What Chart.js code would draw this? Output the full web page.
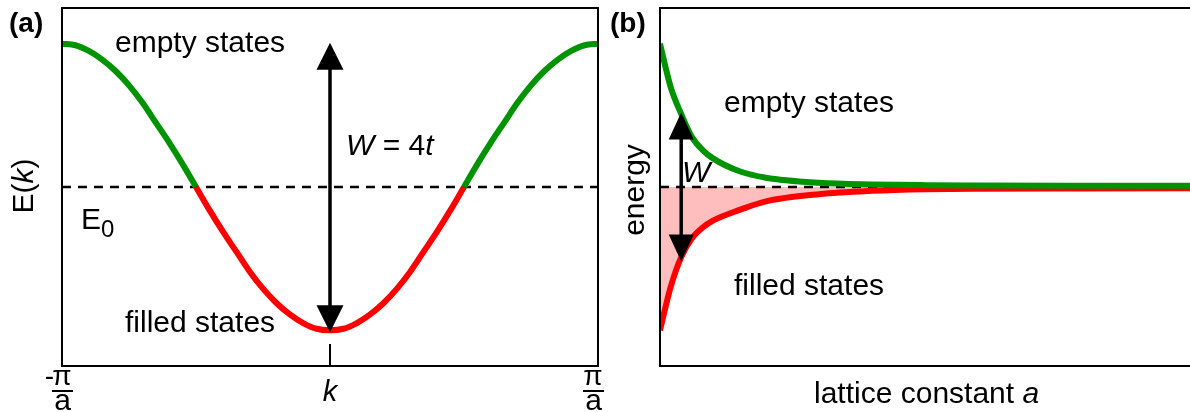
<!DOCTYPE html>
<html>
<head>
<meta charset="utf-8">
<script src="https://cdn.jsdelivr.net/npm/chart.js@4/dist/chart.umd.min.js"></script>
<style>
  html, body { margin: 0; padding: 0; background: #fff; }
  #wrap { position: relative; width: 1190px; height: 412px; overflow: hidden; }
  #ca { position: absolute; left: 0; top: 0; }
  #cb { position: absolute; left: 600px; top: 0; }
</style>
</head>
<body>
<div id="wrap">
  <canvas id="ca" width="612" height="412"></canvas>
  <canvas id="cb" width="590" height="412"></canvas>
</div>
<script>
// ---- Panel (a): tight-binding band E(k) over the first Brillouin zone (k in units of π/a)
const kValues = [-1, -0.95, -0.9, -0.85, -0.8, -0.75, -0.7, -0.65, -0.6, -0.55, -0.5,
                 -0.45, -0.4, -0.35, -0.3, -0.25, -0.2, -0.15, -0.1, -0.05, 0,
                 0.05, 0.1, 0.15, 0.2, 0.25, 0.3, 0.35, 0.4, 0.45, 0.5,
                 0.55, 0.6, 0.65, 0.7, 0.75, 0.8, 0.85, 0.9, 0.95, 1];
const bandEnergy = [1.00, 0.99, 0.95, 0.89, 0.81, 0.71, 0.59, 0.45, 0.31, 0.16, 0.00,
                    -0.16, -0.31, -0.45, -0.59, -0.71, -0.81, -0.89, -0.95, -0.99, -1.00,
                    -0.99, -0.95, -0.89, -0.81, -0.71, -0.59, -0.45, -0.31, -0.16, 0.00,
                    0.16, 0.31, 0.45, 0.59, 0.71, 0.81, 0.89, 0.95, 0.99, 1.00];
const referenceLevel = 0;                 // E0
const kTickValues = [-1, 0, 1];
const kTickLabels = [['-', 'π', 'a'], 'k', ['', 'π', 'a']];
const bandArrowK = 0;                     // bandwidth arrow position
const bandArrowEnds = [-1.0, 1.0];        // W = 4t spans the whole band

// ---- Panel (b): band edges versus lattice constant a
const latticeA   = [0, 0.2, 0.4, 0.6, 0.8, 1.0, 1.5, 2.0, 3.0, 4.0, 5.0, 6.0, 8.0, 10.0];
const upperEdge  = [1.00, 0.70, 0.51, 0.35, 0.26, 0.20, 0.11, 0.065, 0.030, 0.018, 0.013, 0.011, 0.009, 0.008];
const lowerEdge  = [-1.00, -0.70, -0.49, -0.36, -0.285, -0.235, -0.16, -0.10, -0.050, -0.027, -0.016, -0.012, -0.010, -0.009];
const widthArrowA = 0.4;
const widthArrowEnds = [-0.52, 0.52];

const GREEN = '#009300', RED = '#ff0000', PINK = '#ffbebe', INK = '#000';
const FAMILY = '"Liberation Sans", Arial, Helvetica, sans-serif';
const font = (size, style) => `${style ? style + ' ' : ''}${size}px ${FAMILY}`;

function drawRuns(ctx, x, y, runs, align) {
  let total = 0;
  runs.forEach(r => { ctx.font = font(r.size, r.style); r.w = ctx.measureText(r.t).width; total += r.w; });
  let cx = align === 'center' ? x - total / 2 : x;
  ctx.textAlign = 'left';
  ctx.textBaseline = 'alphabetic';
  ctx.fillStyle = INK;
  runs.forEach(r => { ctx.font = font(r.size, r.style); ctx.fillText(r.t, cx, y + (r.dy || 0)); cx += r.w; });
}

function drawRotatedRuns(ctx, x, y, runs) {
  ctx.save();
  ctx.translate(x, y);
  ctx.rotate(-Math.PI / 2);
  drawRuns(ctx, 0, 0, runs, 'center');
  ctx.restore();
}

function drawDoubleArrow(ctx, x, yTop, yBot, headW, headL, lw) {
  ctx.save();
  ctx.fillStyle = INK;
  ctx.strokeStyle = INK;
  ctx.lineWidth = lw;
  ctx.beginPath();
  ctx.moveTo(x, yTop + headL - 1);
  ctx.lineTo(x, yBot - headL + 1);
  ctx.stroke();
  ctx.beginPath();
  ctx.moveTo(x, yTop);
  ctx.lineTo(x - headW / 2, yTop + headL);
  ctx.lineTo(x + headW / 2, yTop + headL);
  ctx.closePath();
  ctx.fill();
  ctx.beginPath();
  ctx.moveTo(x, yBot);
  ctx.lineTo(x - headW / 2, yBot - headL);
  ctx.lineTo(x + headW / 2, yBot - headL);
  ctx.closePath();
  ctx.fill();
  ctx.restore();
}

function fractionLabel(ctx, cx, sign, num, den) {
  ctx.fillStyle = INK;
  ctx.textBaseline = 'alphabetic';
  ctx.font = font(28);
  ctx.textAlign = 'center';
  ctx.fillText(num, cx, 385);
  if (sign) {
    ctx.textAlign = 'right';
    ctx.fillText(sign, cx - 8, 385);
  }
  ctx.fillRect(cx - 10, 390, 21, 2);
  ctx.font = font(30);
  ctx.textAlign = 'center';
  ctx.fillText(den, cx + 0.5, 410);
}

const panelA = {
  id: 'panelA',
  afterDatasetsDraw(chart) {
    const { ctx, scales: { x, y } } = chart;
    drawDoubleArrow(ctx, x.getPixelForValue(bandArrowK),
      y.getPixelForValue(bandArrowEnds[1]) - 1, y.getPixelForValue(bandArrowEnds[0]) + 2, 27, 27, 3.5);
  },
  afterDraw(chart) {
    const { ctx, chartArea: a, scales: { x } } = chart;
    ctx.save();
    ctx.strokeStyle = INK;
    ctx.lineWidth = 2;
    ctx.strokeRect(a.left, a.top, a.right - a.left, a.bottom - a.top);
    // tick labels along k
    kTickValues.forEach((v, i) => {
      const px = x.getPixelForValue(v);
      const lab = kTickLabels[i];
      if (Array.isArray(lab)) {
        fractionLabel(ctx, px + (v > 0 ? -5 : 0), lab[0], lab[1], lab[2]);
      } else {
        ctx.beginPath();
        ctx.moveTo(px, a.bottom - 22);
        ctx.lineTo(px, a.bottom);
        ctx.stroke();
        drawRuns(ctx, px, 401, [{ t: lab, size: 29, style: 'italic' }], 'center');
      }
    });
    drawRuns(ctx, 9, 32, [{ t: '(a)', size: 28, style: 'bold' }]);
    drawRuns(ctx, 115, 52, [{ t: 'empty states', size: 30 }]);
    drawRuns(ctx, 125, 332, [{ t: 'filled states', size: 30 }]);
    drawRuns(ctx, 346, 155, [
      { t: 'W', size: 30, style: 'italic' },
      { t: ' = 4', size: 30 },
      { t: 't', size: 30, style: 'italic' }
    ]);
    drawRuns(ctx, 81, 229, [{ t: 'E', size: 30 }, { t: '0', size: 24, dy: 8 }]);
    drawRotatedRuns(ctx, 33, 186, [
      { t: 'E(', size: 30 },
      { t: 'k', size: 30, style: 'italic' },
      { t: ')', size: 30 }
    ]);
    ctx.restore();
  }
};

const panelB = {
  id: 'panelB',
  afterDatasetsDraw(chart) {
    const { ctx, scales: { x, y } } = chart;
    drawDoubleArrow(ctx, x.getPixelForValue(widthArrowA),
      y.getPixelForValue(widthArrowEnds[1]), y.getPixelForValue(widthArrowEnds[0]), 25, 27, 3.5);
  },
  afterDraw(chart) {
    const { ctx, chartArea: a } = chart;
    ctx.save();
    ctx.strokeStyle = INK;
    ctx.lineWidth = 2;
    ctx.beginPath();
    ctx.moveTo(a.right + 2, a.top);
    ctx.lineTo(a.left, a.top);
    ctx.lineTo(a.left, a.bottom);
    ctx.lineTo(a.right + 2, a.bottom);
    ctx.stroke();
    drawRuns(ctx, 10, 32, [{ t: '(b)', size: 28, style: 'bold' }]);
    drawRuns(ctx, 124, 112, [{ t: 'empty states', size: 30 }]);
    drawRuns(ctx, 134, 295, [{ t: 'filled states', size: 30 }]);
    drawRuns(ctx, 82, 182, [{ t: 'W', size: 30, style: 'italic' }]);
    drawRuns(ctx, 214, 403, [
      { t: 'lattice constant ', size: 30 },
      { t: 'a', size: 30, style: 'italic' }
    ]);
    drawRotatedRuns(ctx, 44, 190, [{ t: 'energy', size: 30 }]);
    ctx.restore();
  }
};

const hiddenScales = (xmin, xmax) => ({
  x: { type: 'linear', min: xmin, max: xmax, display: false },
  y: { type: 'linear', min: -1.25, max: 1.25, display: false }
});
const commonPlugins = { legend: { display: false }, tooltip: { enabled: false } };

new Chart(document.getElementById('ca'), {
  type: 'line',
  data: {
    datasets: [
      {
        data: kValues.map((k, i) => ({ x: k, y: bandEnergy[i] })),
        borderWidth: 6,
        borderColor: GREEN,
        segment: { borderColor: c => (c.p0.parsed.y + c.p1.parsed.y) >= 0 ? GREEN : RED },
        cubicInterpolationMode: 'monotone',
        pointRadius: 0,
        fill: false
      },
      {
        data: [{ x: kValues[0], y: referenceLevel }, { x: kValues[kValues.length - 1], y: referenceLevel }],
        borderColor: INK,
        borderWidth: 2.5,
        borderDash: [9, 7],
        pointRadius: 0,
        fill: false
      }
    ]
  },
  options: {
    responsive: false,
    animation: false,
    devicePixelRatio: 1,
    events: [],
    layout: { padding: { left: 62, right: 14, top: 8, bottom: 46 } },
    scales: hiddenScales(-1, 1),
    plugins: commonPlugins
  },
  plugins: [panelA]
});

new Chart(document.getElementById('cb'), {
  type: 'line',
  data: {
    datasets: [
      {
        data: latticeA.map((v, i) => ({ x: v, y: upperEdge[i] })),
        borderWidth: 6,
        borderColor: GREEN,
        cubicInterpolationMode: 'monotone',
        pointRadius: 0,
        fill: false
      },
      {
        data: latticeA.map((v, i) => ({ x: v, y: lowerEdge[i] })),
        borderWidth: 6,
        borderColor: RED,
        backgroundColor: PINK,
        cubicInterpolationMode: 'monotone',
        pointRadius: 0,
        fill: 'origin'
      },
      {
        data: [{ x: latticeA[0], y: referenceLevel }, { x: latticeA[latticeA.length - 1], y: referenceLevel }],
        borderColor: INK,
        borderWidth: 2.5,
        borderDash: [9, 7],
        pointRadius: 0,
        fill: false
      }
    ]
  },
  options: {
    responsive: false,
    animation: false,
    devicePixelRatio: 1,
    events: [],
    layout: { padding: { left: 60, right: 0, top: 8, bottom: 46 } },
    scales: hiddenScales(0, 10),
    plugins: Object.assign({ filler: { drawTime: 'beforeDatasetsDraw' } }, commonPlugins)
  },
  plugins: [panelB]
});
</script>
</body>
</html>
